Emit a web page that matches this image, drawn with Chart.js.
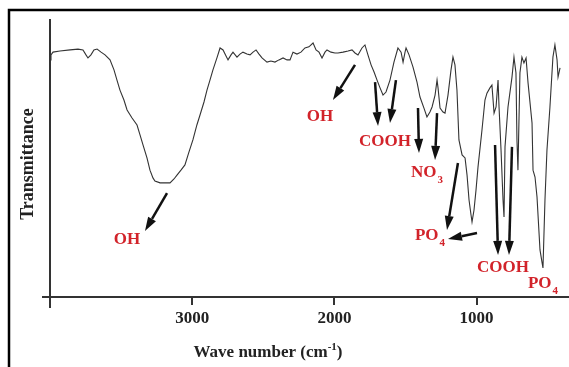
<!DOCTYPE html>
<html lang="en">
<head>
    <meta charset="UTF-8">
    <title>FTIR spectrum</title>
    <script src="https://cdn.jsdelivr.net/npm/chart.js"></script>
    <style>
        body {
            margin: 0;
            background-color: #fff;
        }
        canvas {
            display: block;
        }
    </style>
</head>
<body>
    <canvas id="spectrumChart" width="569" height="367"></canvas>

    <script>
        /***************************
                    DATA
        ***************************/

        // wave numbers (cm-1) and transmittance (arbitrary %)
        const wavenumbers = [
            4000, 3993, 3979, 3930, 3859, 3803, 3768, 3747, 3733, 3712, 3691, 3669, 3641, 3613, 3578,
            3550, 3529, 3508, 3480, 3458, 3423, 3388, 3367, 3346, 3318, 3297, 3276, 3262, 3226, 3191,
            3156, 3128, 3107, 3079, 3051, 3023, 2995, 2967, 2945, 2917, 2896, 2875, 2854, 2826, 2804,
            2783, 2762, 2748, 2727, 2713, 2685, 2664, 2643, 2615, 2593, 2572, 2551, 2530, 2509, 2474,
            2446, 2418, 2390, 2361, 2333, 2312, 2291, 2263, 2235, 2207, 2179, 2150, 2129, 2108, 2087,
            2066, 2052, 2024, 1996, 1975, 1939, 1904, 1876, 1855, 1834, 1806, 1785, 1764, 1742, 1721,
            1700, 1679, 1658, 1637, 1609, 1581, 1553, 1531, 1517, 1503, 1496, 1475, 1447, 1419, 1398,
            1370, 1349, 1328, 1313, 1292, 1278, 1271, 1257, 1236, 1222, 1201, 1180, 1166, 1152, 1138,
            1124, 1102, 1081, 1067, 1053, 1039, 1032, 1018, 1004, 990, 962, 941, 927, 906, 892,
            877, 863, 849, 842, 828, 814, 807, 800, 779, 751, 737, 723, 716, 709, 695,
            681, 667, 652, 638, 610, 603, 589, 575, 554, 540, 533, 519, 505, 484, 463,
            449, 434, 427, 413
        ];
        const transmittance = [
            85.6, 87.4, 88.4, 88.8, 89.2, 89.5, 89.2, 87.4, 86.3, 87.4, 89.2, 89.5, 88.4, 87.4, 85.6,
            82.0, 78.3, 74.7, 71.1, 67.5, 64.6, 62.1, 58.5, 54.9, 50.2, 45.8, 43.0, 41.9, 41.2, 41.2,
            41.2, 42.6, 44.0, 45.8, 47.7, 52.3, 56.7, 62.1, 65.7, 70.4, 74.7, 78.3, 82.0, 86.3, 89.9,
            89.2, 87.0, 85.6, 87.4, 88.4, 86.6, 87.7, 88.4, 87.7, 87.4, 88.4, 89.2, 87.7, 86.3, 84.8,
            85.2, 84.8, 85.6, 86.3, 85.6, 85.6, 88.4, 87.7, 88.4, 89.9, 90.3, 91.7, 89.2, 88.4, 86.3,
            88.4, 89.2, 88.4, 88.1, 88.1, 88.4, 88.8, 89.2, 88.1, 87.4, 89.9, 91.0, 87.4, 83.8, 81.2,
            78.3, 75.5, 72.9, 74.0, 78.3, 84.8, 89.9, 88.4, 84.8, 88.4, 89.9, 87.4, 83.0, 77.6, 72.2,
            68.2, 65.0, 66.8, 68.6, 72.9, 78.3, 75.5, 68.2, 66.8, 66.4, 72.9, 81.9, 86.6, 83.8, 74.7,
            56.7, 51.3, 50.2, 44.0, 35.0, 29.6, 27.1, 31.4, 38.6, 46.9, 60.3, 71.1, 73.6, 75.5, 76.5,
            66.4, 68.6, 78.3, 68.6, 53.1, 35.0, 28.9, 54.2, 68.6, 79.4, 86.6, 80.9, 56.7, 45.8, 80.9,
            86.6, 84.5, 86.3, 77.3, 62.8, 45.8, 43.3, 36.1, 17.0, 12.6, 10.5, 35.0, 53.1, 68.6, 86.6,
            91.0, 85.6, 79.4, 82.7
        ];

        // tick labels on the wave number axis
        const tickValues = [3000, 2000, 1000];

        // band labels: text, subscript, position (wave number, transmittance)
        const bandTexts = ['OH', 'OH', 'COOH', 'NO', 'PO', 'COOH', 'PO'];
        const bandSubs = ['', '', '', '3', '4', '', '4'];
        const bandX = [3458, 2101, 1644, 1349, 1328, 814, 533];
        const bandY = [20.6, 65.0, 56.0, 44.8, 22.0, 10.5, 4.7];

        // arrows: tail (wave number, transmittance) -> head
        const arrowFromX = [3177, 1855, 1714, 1567, 1412, 1278, 1131, 997, 870, 751];
        const arrowFromY = [37.5, 83.8, 77.6, 78.3, 68.2, 66.4, 48.4, 23.1, 54.9, 54.2];
        const arrowToX = [3332, 2010, 1693, 1609, 1405, 1292, 1208, 1201, 849, 772];
        const arrowToY = [23.8, 71.1, 61.7, 62.8, 52.0, 49.5, 24.2, 20.9, 15.2, 15.2];


        /***************************
                  DRAWING HELPERS
        ***************************/

        const serif = '"Liberation Serif", "Times New Roman", serif';
        const red = '#d2232a';

        function drawArrow(ctx, x1, y1, x2, y2) {
            const ang = Math.atan2(y2 - y1, x2 - x1);
            const headLen = 14, headW = 4.5;
            const bx = x2 - headLen * Math.cos(ang);
            const by = y2 - headLen * Math.sin(ang);

            ctx.strokeStyle = '#111';
            ctx.lineWidth = 2.5;
            ctx.beginPath();
            ctx.moveTo(x1, y1);
            ctx.lineTo(bx, by);
            ctx.stroke();

            ctx.fillStyle = '#111';
            ctx.beginPath();
            ctx.moveTo(x2, y2);
            ctx.lineTo(bx + headW * Math.sin(ang), by - headW * Math.cos(ang));
            ctx.lineTo(bx - headW * Math.sin(ang), by + headW * Math.cos(ang));
            ctx.closePath();
            ctx.fill();
        }

        // text with an optional subscript, centred on (x, y)
        function drawBandLabel(ctx, text, sub, x, y) {
            ctx.font = 'bold 17px ' + serif;
            const w1 = ctx.measureText(text).width;
            ctx.font = 'bold 11px ' + serif;
            const w2 = sub ? ctx.measureText(sub).width + 1 : 0;
            const left = x - (w1 + w2) / 2;

            ctx.fillStyle = red;
            ctx.textAlign = 'left';
            ctx.textBaseline = 'middle';
            ctx.font = 'bold 17px ' + serif;
            ctx.fillText(text, left, y);
            if (sub) {
                ctx.font = 'bold 11px ' + serif;
                ctx.fillText(sub, left + w1 + 1, y + 7);
            }
        }

        const decorPlugin = {
            id: 'decor',
            afterDatasetsDraw(chart) {
                const ctx = chart.ctx;
                const xs = chart.scales.x, ys = chart.scales.y;
                ctx.save();
                for (let i = 0; i < arrowFromX.length; i++) {
                    drawArrow(ctx,
                        xs.getPixelForValue(arrowFromX[i]), ys.getPixelForValue(arrowFromY[i]),
                        xs.getPixelForValue(arrowToX[i]), ys.getPixelForValue(arrowToY[i]));
                }
                for (let i = 0; i < bandTexts.length; i++) {
                    drawBandLabel(ctx, bandTexts[i], bandSubs[i],
                        xs.getPixelForValue(bandX[i]), ys.getPixelForValue(bandY[i]));
                }
                ctx.restore();
            },
            afterDraw(chart) {
                const ctx = chart.ctx;
                const area = chart.chartArea;
                ctx.save();

                // outer frame (top and left only)
                ctx.strokeStyle = '#000';
                ctx.lineWidth = 2.5;
                ctx.beginPath();
                ctx.moveTo(569, 10);
                ctx.lineTo(9, 10);
                ctx.lineTo(9, 367);
                ctx.stroke();

                // axes sticking out past the corner
                ctx.strokeStyle = '#333';
                ctx.lineWidth = 2;
                ctx.beginPath();
                ctx.moveTo(area.left - 8, area.bottom);
                ctx.lineTo(area.left, area.bottom);
                ctx.moveTo(area.left, area.bottom);
                ctx.lineTo(area.left, area.bottom + 11);
                ctx.stroke();

                // y title
                ctx.fillStyle = '#222';
                ctx.font = 'bold 18px ' + serif;
                ctx.textAlign = 'center';
                ctx.textBaseline = 'middle';
                ctx.translate(28, 164);
                ctx.rotate(-Math.PI / 2);
                ctx.fillText('Transmittance', 0, 0);
                ctx.restore();

                // x title with superscript
                ctx.save();
                ctx.fillStyle = '#222';
                ctx.textAlign = 'left';
                ctx.textBaseline = 'alphabetic';
                ctx.font = 'bold 17px ' + serif;
                const a = 'Wave number (cm', c = ')';
                const wa = ctx.measureText(a).width, wc = ctx.measureText(c).width;
                ctx.font = 'bold 11px ' + serif;
                const wb = ctx.measureText('-1').width;
                let x = 268 - (wa + wb + wc) / 2;
                ctx.font = 'bold 17px ' + serif;
                ctx.fillText(a, x, 357);
                ctx.font = 'bold 11px ' + serif;
                ctx.fillText('-1', x + wa, 350);
                ctx.font = 'bold 17px ' + serif;
                ctx.fillText(c, x + wa + wb, 357);
                ctx.restore();
            }
        };


        /***************************
                  THE CHART
        ***************************/

        const points = wavenumbers.map((w, i) => ({ x: w, y: transmittance[i] }));

        new Chart(document.getElementById('spectrumChart').getContext('2d'), {
            type: 'line',
            data: {
                datasets: [{
                    data: points,
                    borderColor: '#333',
                    borderWidth: 1.1,
                    pointRadius: 0,
                    tension: 0,
                    fill: false
                }]
            },
            options: {
                responsive: false,
                animation: false,
                layout: { padding: { left: 50, top: 20, right: 0, bottom: 0 } },
                plugins: {
                    legend: { display: false },
                    tooltip: { enabled: false }
                },
                scales: {
                    x: {
                        type: 'linear',
                        reverse: true,
                        min: 350,
                        max: 4000,
                        afterFit: s => { s.height = 70; },
                        afterBuildTicks: s => { s.ticks = tickValues.map(v => ({ value: v })); },
                        grid: {
                            display: true,
                            drawOnChartArea: false,
                            drawTicks: true,
                            tickLength: 8,
                            color: '#333',
                            lineWidth: 2
                        },
                        border: { display: true, color: '#333', width: 2 },
                        ticks: {
                            color: '#222',
                            padding: 3,
                            maxRotation: 0,
                            callback: v => String(v),
                            font: { family: serif, size: 17, weight: 'bold' }
                        }
                    },
                    y: {
                        min: 0,
                        max: 100,
                        afterFit: s => { s.width = 0; },
                        grid: { display: false },
                        border: { display: true, color: '#333', width: 2 },
                        ticks: { display: false }
                    }
                }
            },
            plugins: [decorPlugin]
        });
    </script>
</body>
</html>
